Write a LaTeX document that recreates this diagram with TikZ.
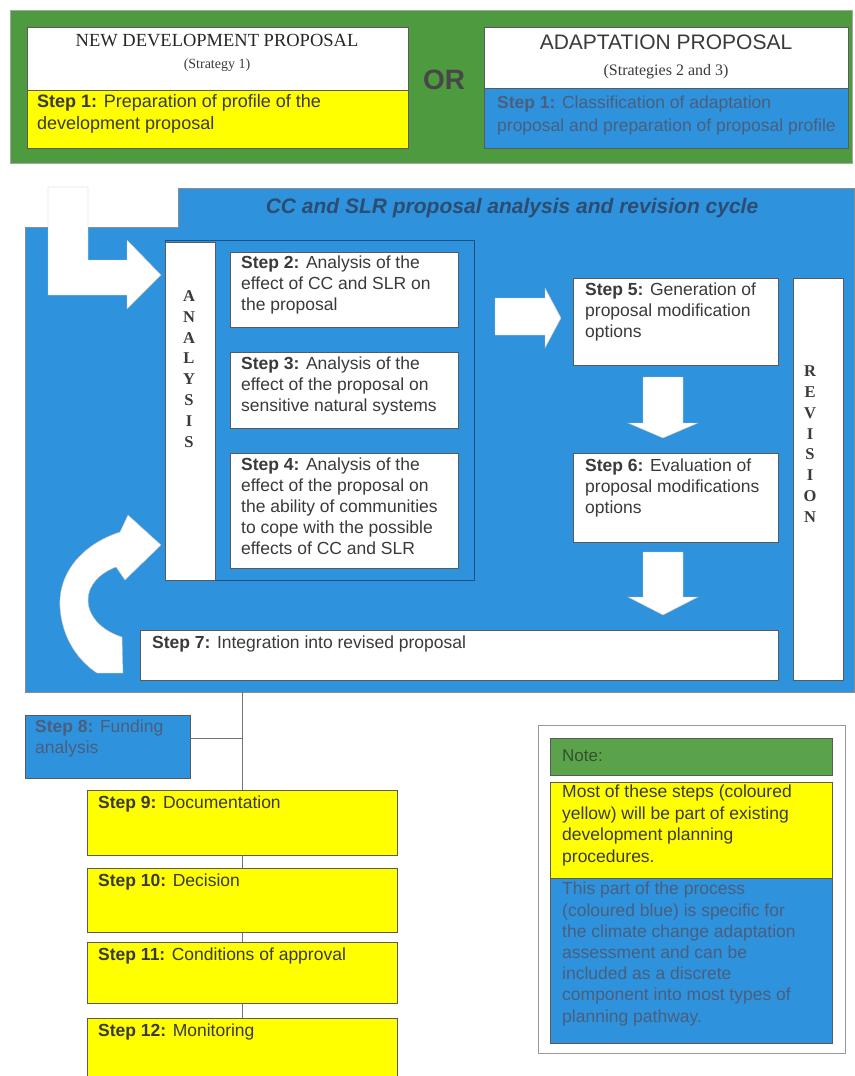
\documentclass[tikz,border=0pt]{standalone}
\usepackage{fontspec}
\setmainfont{Liberation Sans}
\newfontfamily\serifface{Liberation Serif}
\usetikzlibrary{calc}

\definecolor{topgreen}{HTML}{4E9A3E}
\definecolor{notegreen}{HTML}{5BA34B}
\definecolor{cycleblue}{HTML}{2E93DC}
\definecolor{stepyellow}{HTML}{FFFF00}
\definecolor{inktext}{HTML}{3A3A3A}
\definecolor{bluetext}{HTML}{4A5E7E}
\definecolor{headtext}{HTML}{2D4C72}
\definecolor{frame}{HTML}{5A5A5A}
\definecolor{groupline}{HTML}{1D4F85}
\definecolor{notetext}{HTML}{34502F}

\tikzset{
  box/.style={draw=frame, line width=0.5pt, inner sep=0pt, outer sep=0pt, anchor=north west},
  whitebox/.style={box, fill=white},
  yellowbox/.style={box, fill=stepyellow},
  bluebox/.style={box, fill=cycleblue},
  txt/.style={anchor=north west, inner sep=0pt, align=left, text=inktext,
    font=\fontsize{17.5}{21}\selectfont},
  bluetxt/.style={txt, text=bluetext},
  vletters/.style={inner sep=0pt, align=center, text=inktext,
    font=\serifface\bfseries\fontsize{16.5}{20.8}\selectfont},
  blockarrow/.style={fill=white, draw=black!25, line width=0.4pt},
  link/.style={draw=black!55, line width=0.7pt},
}

\begin{document}
\begin{tikzpicture}[x=1pt,y=-1pt]
\useasboundingbox (0,0) rectangle (854,1076);
\fill[white] (0,0) rectangle (854,1076);

% ---- entry band: the two kinds of proposal ----
\node[box, fill=topgreen, draw=black!35, minimum width=842, minimum height=153] (entry) at (10,10) {};
\node[whitebox, minimum width=381, minimum height=63] (newdev) at (27,27) {};
\node[yellowbox, minimum width=381, minimum height=58] (newstep) at (27,90) {};
\node[whitebox, minimum width=364, minimum height=61] (adapt) at (484,27) {};
\node[bluebox, minimum width=364, minimum height=60] (adaptstep) at (484,88) {};

\node[text=black!85, font=\serifface\fontsize{18.5}{21}\selectfont] (newdevtitle) at (217,41) {NEW DEVELOPMENT PROPOSAL};
\node[text=inktext, font=\serifface\fontsize{14}{17}\selectfont] (newdevsub) at (217,65) {(Strategy 1)};
\node[text=inktext, font=\fontsize{21}{25}\selectfont] (adapttitle) at (666,42) {ADAPTATION PROPOSAL};
\node[text=inktext, font=\serifface\fontsize{16}{19}\selectfont] (adaptsub) at (666,72) {(Strategies 2 and 3)};
\node[text=black!72, font=\bfseries\fontsize{28}{30}\selectfont] (or) at (444,80) {OR};

\node[txt, font=\fontsize{18}{22.5}\selectfont] (newsteptxt) at (37,94)
  {\textbf{Step 1:} Preparation of profile of the\\development proposal};
\node[bluetxt, font=\fontsize{17.5}{22.5}\selectfont] (adaptsteptxt) at (497,96)
  {\textbf{Step 1:} Classification of adaptation\\proposal and preparation of proposal profile};

% ---- analysis and revision cycle panel ----
\filldraw[fill=cycleblue, draw=black!45, line width=0.5pt]
  (178,188) -- (854,188) -- (854,692) -- (25,692) -- (25,227) -- (178,227) -- cycle;
\coordinate (cyclebase) at (242,692);
\node[text=headtext, font=\bfseries\itshape\fontsize{21}{25}\selectfont] (cycletitle) at (512,208)
  {CC and SLR proposal analysis and revision cycle};

% entry arrow into the analysis column
\filldraw[blockarrow] (48,187) -- (88,187) -- (88,260) -- (127,260) -- (127,240)
  -- (161,275) -- (127,309) -- (127,295) -- (48,295) -- cycle;

% analysis group
\node[box, draw=groupline, line width=1pt, minimum width=309, minimum height=340] (analysisgroup) at (165,240) {};
\node[whitebox, minimum width=50, minimum height=338] (analysis) at (165,242) {};
\node[vletters] (analysislbl) at (189,369) {A\\N\\A\\L\\Y\\S\\I\\S};

\node[whitebox, minimum width=228, minimum height=75] (s2) at (230,252) {};
\node[txt] (s2t) at ($(s2.north west)+(11,4)$) {\textbf{Step 2:} Analysis of the\\effect of CC and SLR on\\the proposal};
\node[whitebox, minimum width=228, minimum height=76] (s3) at (230,352) {};
\node[txt] (s3t) at ($(s3.north west)+(11,5)$) {\textbf{Step 3:} Analysis of the\\effect of the proposal on\\sensitive natural systems};
\node[whitebox, minimum width=228, minimum height=115] (s4) at (230,453) {};
\node[txt] (s4t) at ($(s4.north west)+(11,5)$) {\textbf{Step 4:} Analysis of the\\effect of the proposal on\\the ability of communities\\to cope with the possible\\effects of CC and SLR};

% revision column
\node[whitebox, minimum width=205, minimum height=87] (s5) at (573,278) {};
\node[txt] (s5t) at ($(s5.north west)+(12,5)$) {\textbf{Step 5:} Generation of\\proposal modification\\options};
\node[whitebox, minimum width=205, minimum height=89] (s6) at (573,453) {};
\node[txt] (s6t) at ($(s6.north west)+(12,6)$) {\textbf{Step 6:} Evaluation of\\proposal modifications\\options};
\node[whitebox, minimum width=638, minimum height=50] (s7) at (140,630) {};
\node[txt] (s7t) at ($(s7.north west)+(12,6)$) {\textbf{Step 7:} Integration into revised proposal};
\node[whitebox, minimum width=50, minimum height=402] (revision) at (793,278) {};
\node[vletters] (revisionlbl) at (810,444) {R\\E\\V\\I\\S\\I\\O\\N};

% block arrows between the cycle steps
\filldraw[blockarrow] (495,298) -- (545,298) -- (545,288) -- (561,318) -- (545,348)
  -- (545,335) -- (495,335) -- cycle;
\filldraw[blockarrow] (643,377) -- (683,377) -- (683,423) -- (698,423) -- (663,438)
  -- (628,423) -- (643,423) -- cycle;
\filldraw[blockarrow] (643,552) -- (683,552) -- (683,597) -- (698,597) -- (663,615)
  -- (628,597) -- (643,597) -- cycle;
% loop back from integration to analysis
\filldraw[blockarrow] (97,673) -- (123,673) -- (122,637)
  .. controls (100,630) and (88,615) .. (88,600)
  .. controls (88,585) and (100,573) .. (116,567)
  -- (125,580) -- (161,545) -- (128,515) -- (120,532)
  .. controls (80,545) and (58,575) .. (60,607)
  .. controls (62,640) and (80,662) .. (97,673) -- cycle;

% ---- remaining steps ----
\node[bluebox, minimum width=165, minimum height=63] (s8) at (25,715) {};
\node[bluetxt] (s8t) at ($(s8.north west)+(10,5)$) {\textbf{Step 8:} Funding\\analysis};
\node[yellowbox, minimum width=310, minimum height=65] (s9) at (87,790) {};
\node[txt] (s9t) at ($(s9.north west)+(11,6)$) {\textbf{Step 9:} Documentation};
\node[yellowbox, minimum width=310, minimum height=64] (s10) at (87,868) {};
\node[txt] (s10t) at ($(s10.north west)+(11,6)$) {\textbf{Step 10:} Decision};
\node[yellowbox, minimum width=310, minimum height=61] (s11) at (87,942) {};
\node[txt] (s11t) at ($(s11.north west)+(11,6)$) {\textbf{Step 11:} Conditions of approval};
\node[yellowbox, minimum width=310, minimum height=64] (s12) at (87,1018) {};
\node[txt] (s12t) at ($(s12.north west)+(11,6)$) {\textbf{Step 12:} Monitoring};

\draw[link] (cyclebase) -- (s9.north);
\draw[link] (s9.south) -- (s10.north);
\draw[link] (s10.south) -- (s11.north);
\draw[link] (s11.south) -- (s12.north);
\coordinate (fundjoin) at (242,738);
\draw[link] (s8.east |- fundjoin) -- (fundjoin);

% ---- key ----
\node[box, fill=white, draw=black!40, line width=0.6pt, minimum width=307, minimum height=328] (key) at (538,725) {};
\node[box, fill=notegreen, minimum width=282, minimum height=37] (keyhead) at (550,738) {};
\node[anchor=west, inner sep=0pt, text=notetext, font=\fontsize{17}{20}\selectfont] (keyheadt) at (562,756) {Note:};
\node[yellowbox, minimum width=282, minimum height=96] (keyyellow) at (550,782) {};
\node[txt, font=\fontsize{17.5}{21.5}\selectfont] (keyyellowt) at (562,785)
  {Most of these steps (coloured\\yellow) will be part of existing\\development planning\\procedures.};
\node[bluebox, minimum width=282, minimum height=165] (keyblue) at (550,878) {};
\node[bluetxt, font=\fontsize{17.5}{21.2}\selectfont] (keybluet) at (562,882)
  {This part of the process\\(coloured blue) is specific for\\the climate change adaptation\\assessment and can be\\included as a discrete\\component into most types of\\planning pathway.};
\end{tikzpicture}
\end{document}
